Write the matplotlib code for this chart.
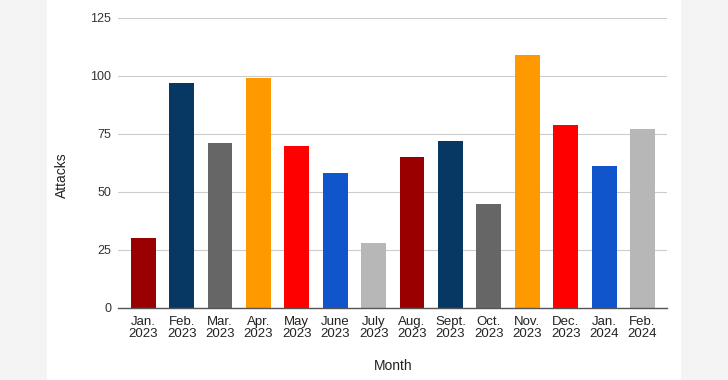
import matplotlib
matplotlib.use("Agg")
import matplotlib.pyplot as plt
from matplotlib.patches import Rectangle

months = ["Jan.\n2023", "Feb.\n2023", "Mar.\n2023", "Apr.\n2023", "May\n2023", "June\n2023",
          "July\n2023", "Aug.\n2023", "Sept.\n2023", "Oct.\n2023", "Nov.\n2023", "Dec.\n2023",
          "Jan.\n2024", "Feb.\n2024"]
attacks = [30, 97, 71, 99, 70, 58, 28, 65, 72, 45, 109, 79, 61, 77]
colors = ["#990000", "#073763", "#666666", "#ff9900", "#ff0000", "#1155cc", "#b7b7b7",
          "#990000", "#073763", "#666666", "#ff9900", "#ff0000", "#1155cc", "#b7b7b7"]
yticks = [0, 25, 50, 75, 100, 125]

plt.rcParams['font.family'] = ['Liberation Sans', 'DejaVu Sans']

W, H = 728, 380
fig = plt.figure(figsize=(W/100, H/100), dpi=100, facecolor="#f4f4f4")
fig.patches.append(Rectangle((47/W, 0), (681-47)/W, 1, transform=fig.transFigure,
                             facecolor="white", edgecolor="none", zorder=-10))

ax = fig.add_axes([118/W, 1-308/H, (667-118)/W, (308-18)/H])
ax.set_facecolor("none")
x = range(len(months))
ax.bar(x, attacks, width=0.65, color=colors, zorder=3)
ax.set_xlim(-0.656, len(months)-1+0.64)
ax.set_ylim(0, 125)
ax.set_yticks(yticks)
ax.set_xticks(list(x))
ax.set_xticklabels(months, fontsize=9.5, color="#222222", linespacing=0.95)
ax.tick_params(axis='y', labelsize=9, labelcolor="#333333", length=0, pad=5)
ax.tick_params(axis='x', length=0, pad=6)
ax.grid(axis='y', color="#cccccc", linewidth=0.8, zorder=0)
for s in ["top", "right", "left"]:
    ax.spines[s].set_visible(False)
ax.spines["bottom"].set_color("#555555")
ax.spines["bottom"].set_linewidth(1.0)
ax.spines["bottom"].set_zorder(4)

fig.text(62/W, 1-175.5/H, "Attacks", rotation=90, ha="center", va="center", fontsize=10, color="#222222")
fig.text(393/W, 1-366.5/H, "Month", ha="center", va="center", fontsize=10, color="#222222")

fig.savefig("out.png", dpi=100, facecolor=fig.get_facecolor())
